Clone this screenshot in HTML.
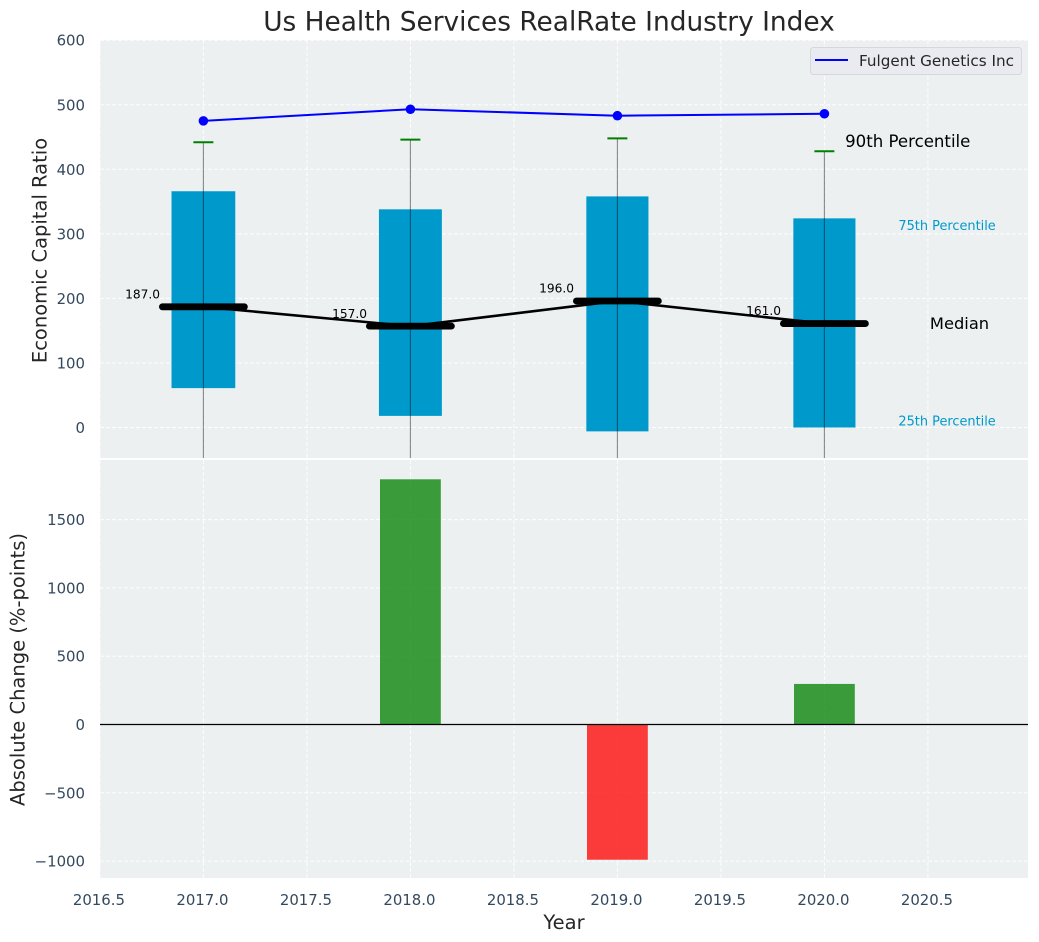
<!DOCTYPE html>
<html>
<head>
<meta charset="utf-8">
<title>Us Health Services RealRate Industry Index</title>
<style>
html,body{margin:0;padding:0;background:#fff;}
svg{display:block;font-family:"DejaVu Sans","Liberation Sans",sans-serif;}
</style>
</head>
<body>
<svg id="chart" xmlns="http://www.w3.org/2000/svg" width="1039" height="942" viewBox="0 0 1039 942">
<defs>
<clipPath id="clip-top"><rect x="100" y="40" width="928" height="418"/></clipPath>
<clipPath id="clip-bot"><rect x="100" y="460" width="928" height="418"/></clipPath>
</defs>
<text x="549" y="30.5" text-anchor="middle" font-size="26.4" fill="#262626">Us Health Services RealRate Industry Index</text>
<rect x="100" y="40" width="928" height="418" fill="#ecf0f1"/>
<rect x="100" y="460" width="928" height="418" fill="#ecf0f1"/>
<g id="top-grid"></g>
<g id="bot-grid"></g>
<g id="top-marks" clip-path="url(#clip-top)"></g>
<g id="bot-marks" clip-path="url(#clip-bot)"></g>
<g id="labels"></g>
<text transform="translate(46.5,250.5) rotate(-90)" text-anchor="middle" font-size="19.5" fill="#262626">Economic Capital Ratio</text>
<text transform="translate(24.5,669.5) rotate(-90)" text-anchor="middle" font-size="19.5" fill="#262626">Absolute Change (%-points)</text>
<text x="564" y="929" text-anchor="middle" font-size="19.5" fill="#262626">Year</text>
<g>
<rect x="810.5" y="47.5" width="211" height="27" rx="3" fill="#eaebf1" stroke="#d6d6dc" stroke-width="1"/>
<line x1="815" y1="60" x2="848" y2="60" stroke="#0000ff" stroke-width="2"/>
<text x="859" y="66" font-size="15.2" fill="#262626">Fulgent Genetics Inc</text>
</g>
</svg>
<script>
const years = [2017, 2018, 2019, 2020];
const q75 = [366, 338, 358, 324];
const q25 = [61, 18, -6, 0];
const p90 = [442, 446, 448, 428];
const p10 = [-120, -130, -140, -150];
const medians = [187, 157, 196, 161];
const companyValues = [475, 493, 483, 486];
const changes = [0, 1795, -990, 297];
const boxWidths = [0.308, 0.304, 0.3, 0.3];
const xTicks = [2016.5, 2017, 2017.5, 2018, 2018.5, 2019, 2019.5, 2020, 2020.5];
const topTicks = [0, 100, 200, 300, 400, 500, 600];
const botTicks = [-1000, -500, 0, 500, 1000, 1500];

const NS = 'http://www.w3.org/2000/svg';
function xs(v) { return 203.4 + (v - 2017) * 207; }
function yTop(v) { return 427.5 - v * 0.6455; }
function yBot(v) { return 724.5 - v * 0.1366; }
function make(parent, tag, attrs, text) {
  const el = document.createElementNS(NS, tag);
  for (const k in attrs) el.setAttribute(k, attrs[k]);
  if (text !== undefined) el.textContent = text;
  parent.appendChild(el);
  return el;
}
const topGrid = document.getElementById('top-grid');
const botGrid = document.getElementById('bot-grid');
const topMarks = document.getElementById('top-marks');
const botMarks = document.getElementById('bot-marks');
const labels = document.getElementById('labels');
const gridStyle = {stroke: '#ffffff', 'stroke-width': 1, 'stroke-dasharray': '4 2', 'stroke-opacity': 0.9};

xTicks.forEach(function (t) {
  const a = make(topGrid, 'line', Object.assign({x1: xs(t), x2: xs(t), y1: 40, y2: 458}, gridStyle));
  
  
  const b = make(botGrid, 'line', Object.assign({x1: xs(t), x2: xs(t), y1: 460, y2: 878}, gridStyle));
  
  
  const l = make(labels, 'text', {x: xs(t) - 1, y: 905, 'text-anchor': 'middle', 'font-size': 14.9, fill: '#34495e'}, t.toFixed(1));
  
  
});
topTicks.forEach(function (t) {
  const a = make(topGrid, 'line', Object.assign({x1: 100, x2: 1028, y1: yTop(t), y2: yTop(t)}, gridStyle));
  
  
  const l = make(labels, 'text', {x: 85, y: yTop(t) + 5.5, 'text-anchor': 'end', 'font-size': 14.9, fill: '#34495e'}, String(t));
  
  
});
botTicks.forEach(function (t) {
  const a = make(botGrid, 'line', Object.assign({x1: 100, x2: 1028, y1: yBot(t), y2: yBot(t)}, gridStyle));
  
  
  const l = make(labels, 'text', {x: 85, y: yBot(t) + 5.5, 'text-anchor': 'end', 'font-size': 14.9, fill: '#34495e'}, String(t).replace('-', '\u2212'));
  
  
});

years.forEach(function (yr, i) {
  const half = boxWidths[i] * 207 / 2;
  const box = make(topMarks, 'rect', {x: xs(yr) - half, width: half * 2, y: yTop(q75[i]), height: yTop(q25[i]) - yTop(q75[i]), fill: '#0099cc'});
  
  
});
const medianLine = make(topMarks, 'polyline', {points: years.map(function (yr, i) { return xs(yr) + ',' + yTop(medians[i]); }).join(' '), fill: 'none', stroke: '#000000', 'stroke-width': 2.6});


years.forEach(function (yr, i) {
  const w = make(topMarks, 'line', {x1: xs(yr), x2: xs(yr), y1: yTop(p90[i]), y2: yTop(p10[i]), stroke: '#000000', 'stroke-opacity': 0.45, 'stroke-width': 1.1});
  
  
  const cap = make(topMarks, 'line', {x1: xs(yr) - 10, x2: xs(yr) + 10, y1: yTop(p90[i]), y2: yTop(p90[i]), stroke: '#008000', 'stroke-width': 2});
  
  
  const m = make(topMarks, 'line', {x1: xs(yr) - 41, x2: xs(yr) + 41, y1: yTop(medians[i]), y2: yTop(medians[i]), stroke: '#000000', 'stroke-width': 6.8, 'stroke-linecap': 'round'});
  
  
  const v = make(labels, 'text', {x: xs(yr) - 43.4, y: yTop(medians[i]) - 8.4, 'text-anchor': 'end', 'font-size': 12.2, fill: '#000000'}, medians[i].toFixed(1));
  
  
});
const companyLine = make(topMarks, 'polyline', {points: years.map(function (yr, i) { return xs(yr) + ',' + yTop(companyValues[i]); }).join(' '), fill: 'none', stroke: '#0000ff', 'stroke-width': 2});


years.forEach(function (yr, i) {
  const d = make(topMarks, 'circle', {cx: xs(yr), cy: yTop(companyValues[i]), r: 4.8, fill: '#0000ff'});
  
  
});

years.forEach(function (yr, i) {
  if (changes[i] === 0) return;
  const top = yBot(Math.max(changes[i], 0));
  const bottom = yBot(Math.min(changes[i], 0));
  const bar = make(botMarks, 'rect', {x: xs(yr) - 30.4, width: 60.8, y: top, height: bottom - top, fill: changes[i] > 0 ? '#008000' : '#ff0000', 'fill-opacity': 0.76});
  
  
});
const zero = make(botMarks, 'line', {x1: 100, x2: 1028, y1: yBot(0), y2: yBot(0), stroke: '#000000', 'stroke-width': 1.2});



const last = years.length - 1;
const a90 = make(labels, 'text', {x: xs(2020.1), y: yTop(p90[last]) - 4, 'font-size': 16.6, fill: '#000000'}, '90th Percentile');


const a75 = make(labels, 'text', {x: xs(2020.36) - 0.5, y: yTop(q75[last]) + 11.5, 'font-size': 12.9, fill: '#0099cc'}, '75th Percentile');


const aMed = make(labels, 'text', {x: xs(2020.5) + 2, y: yTop(medians[last]) + 5.5, 'font-size': 16.3, fill: '#000000'}, 'Median');


const a25 = make(labels, 'text', {x: xs(2020.36) - 0.5, y: yTop(q25[last]) - 2, 'font-size': 12.9, fill: '#0099cc'}, '25th Percentile');


</script>
</body>
</html>
